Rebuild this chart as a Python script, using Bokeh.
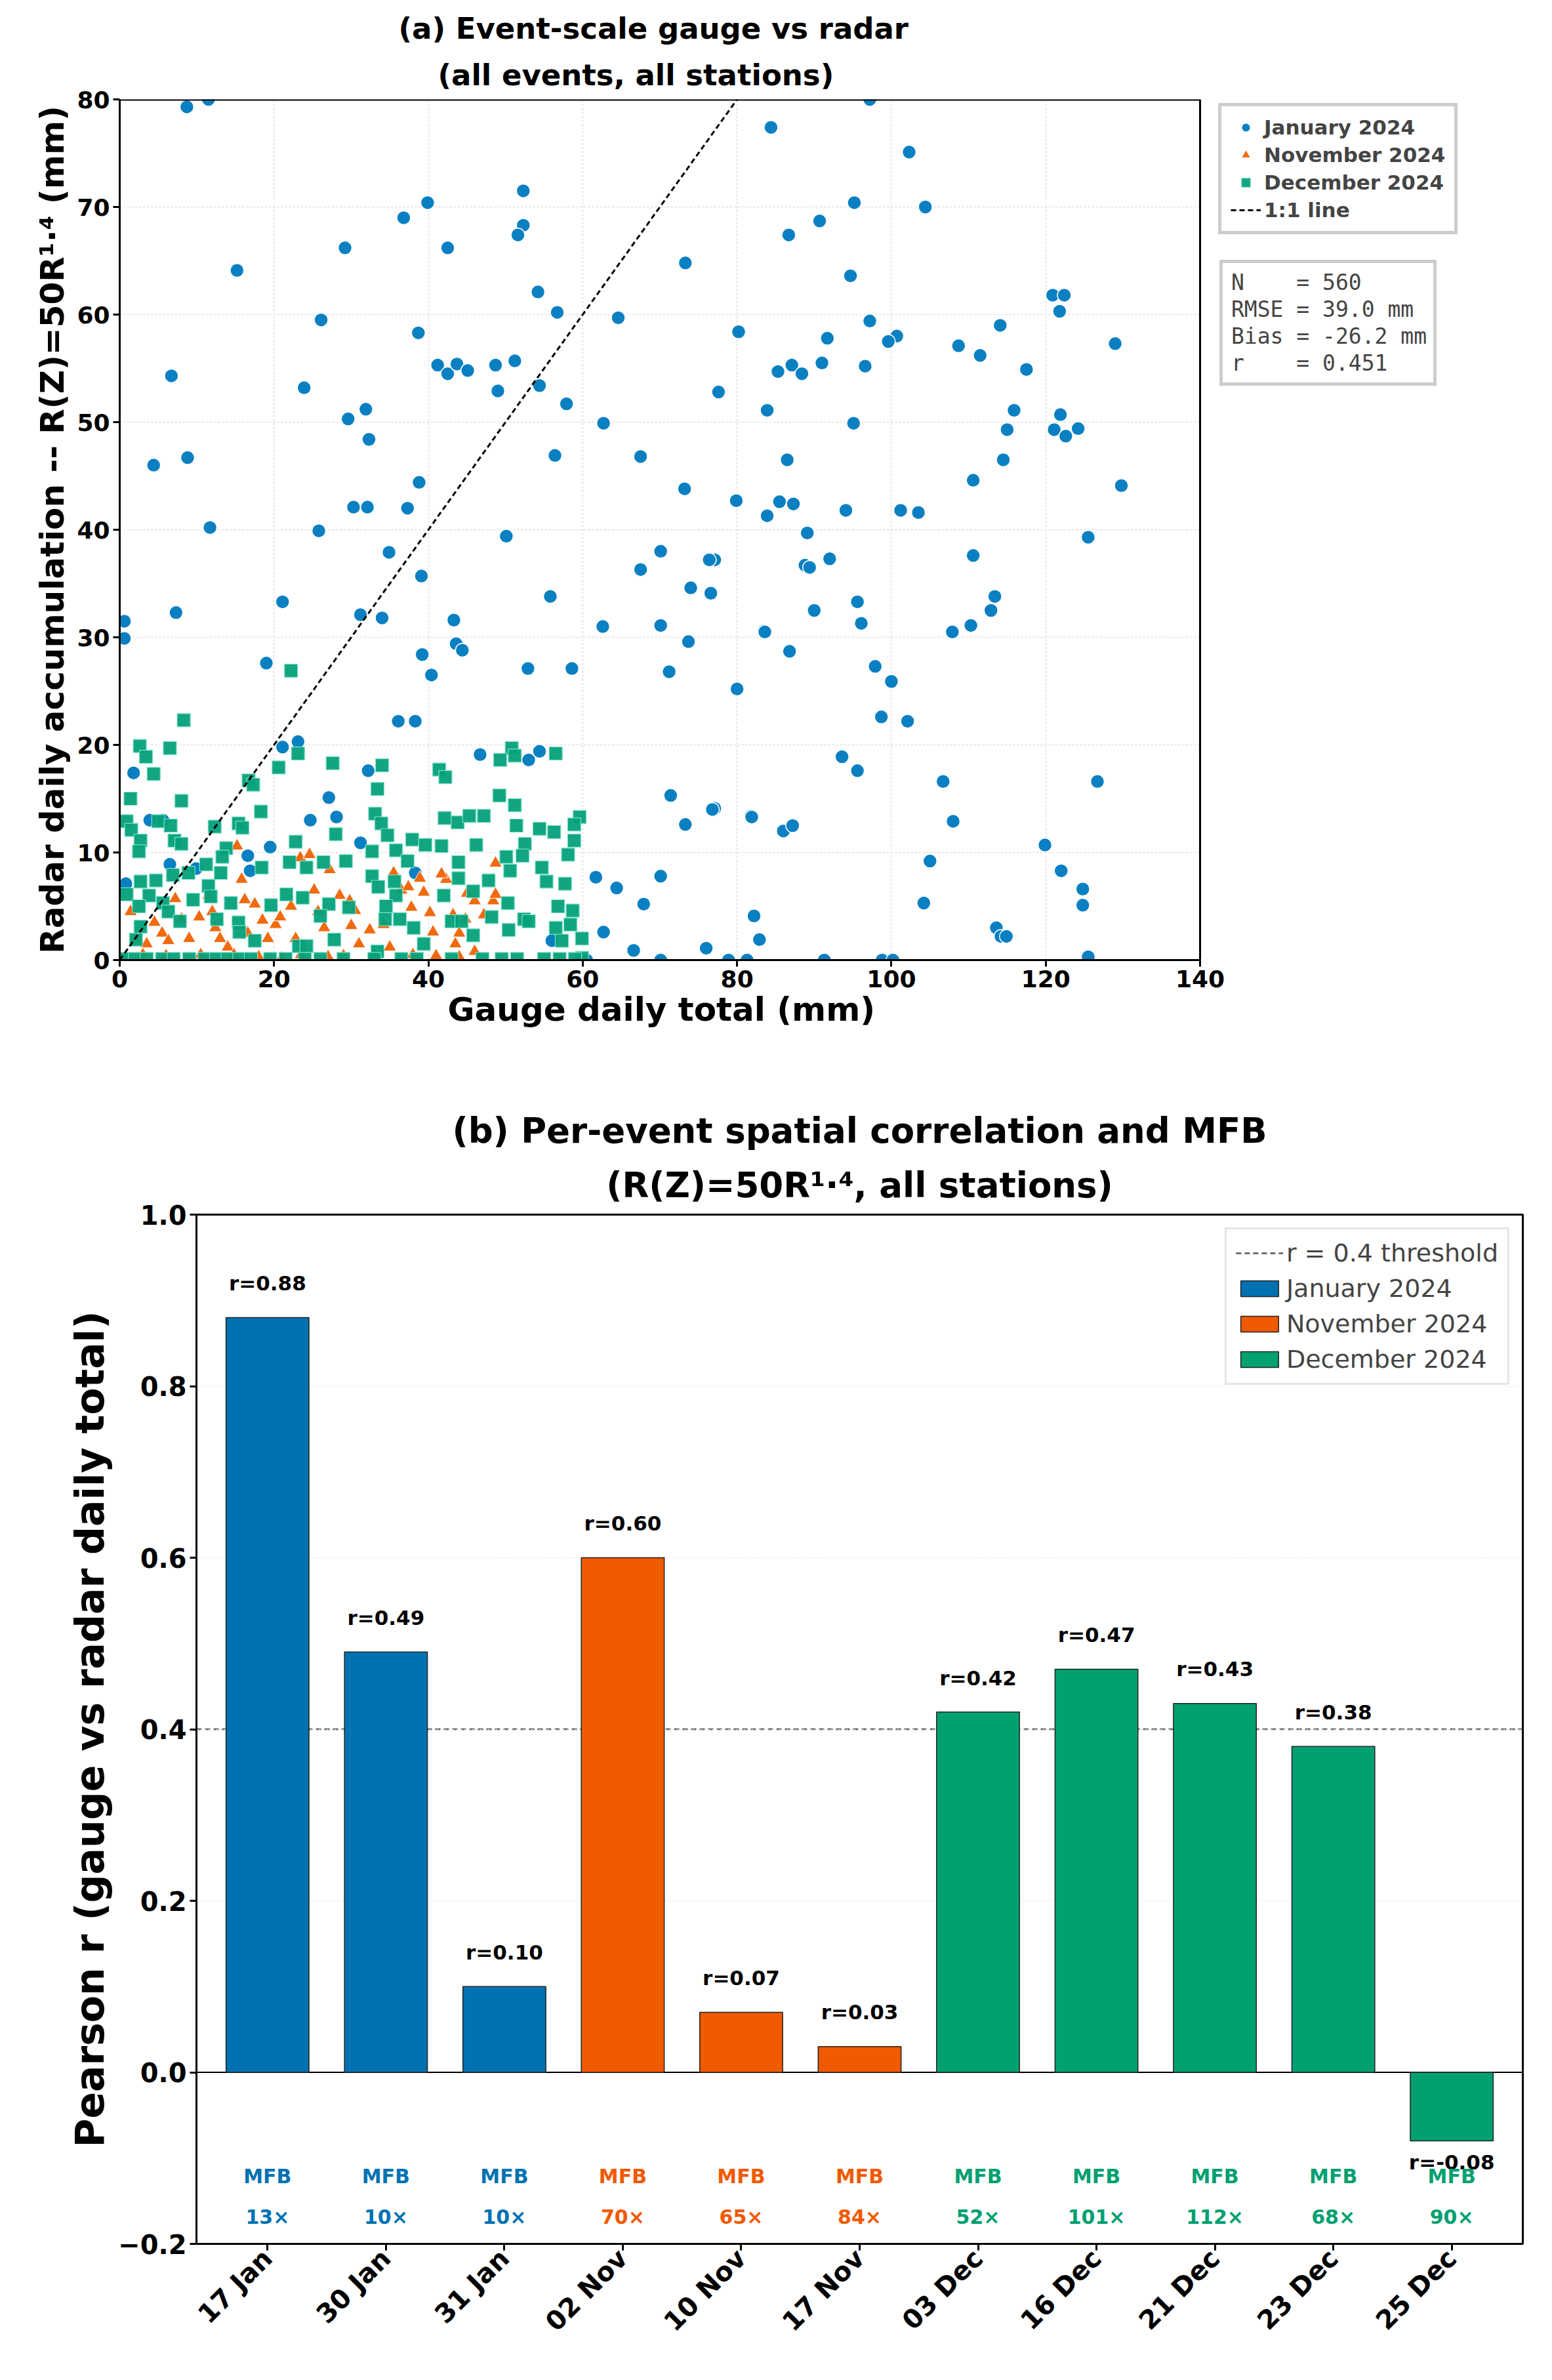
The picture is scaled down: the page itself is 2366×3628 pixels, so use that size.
from bokeh.plotting import figure
from bokeh.models import Legend, LegendItem, Title, Span, FixedTicker, Range1d, ColumnDataSource
from bokeh.embed import file_html
from bokeh.resources import INLINE
from bokeh.core.properties import value

# ---------------- data: panel (a) ----------------
jan_x = [8.7,11.5,15.2,29.2,26.1,23.9,29.6,31.9,32.3,6.7,4.4,8.8,36.8,39.9,42.5,38.7,41.2,42.5,43.7,45.1,48.7,49.0,51.2,52.3,52.3,51.6,54.2,56.7,54.4,57.9,56.4,62.7,64.6,67.5,73.3,73.2,80.2,79.9,84.4,83.9,85.3,85.5,83.9,38.8,30.3,32.1,37.3,
         97.2,102.3,95.2,104.4,90.7,86.7,94.7,120.9,122.4,121.8,97.2,91.7,100.7,99.6,114.1,108.7,111.5,117.5,129.0,87.1,88.4,91.0,96.6,77.6,95.1,115.9,115.0,121.9,121.1,122.6,124.2,86.5,114.5,110.6,129.8,87.3,94.1,101.2,103.5,
         89.1,125.5,110.6,92.0,88.8,89.4,77.1,113.4,112.9,95.6,90.0,96.1,110.3,107.9,83.5,86.8,97.9,100.0,80.0,98.7,102.1,93.6,95.6,106.7,126.7,77.1,81.8,86.0,87.2,108.0,119.9,105.0,122.0,124.8,124.8,104.2,82.2,82.9,113.6,114.2,114.9,125.5,78.8,81.3,91.3,98.8,100.2,
         11.7,25.8,50.1,34.9,39.1,70.1,76.4,67.5,74.0,76.6,55.8,0.6,0.6,7.3,21.1,31.2,34.0,43.3,43.6,44.4,39.2,40.4,19.0,52.9,58.6,62.6,70.1,73.7,71.2,83.6,36.1,38.3,1.8,21.1,23.1,32.2,46.7,53.0,54.4,71.4,76.8,73.3,81.9,27.1,28.1,24.7,3.9,5.6,19.5,31.2,16.6,16.9,6.5,9.9,0.8,38.3,61.7,64.4,70.1,67.9,62.7,66.6,76.0,56.0,70.1,78.9,60.5]
jan_y = [79.3,80.0,64.1,66.2,59.5,53.2,50.3,51.2,48.4,54.3,46.0,46.7,69.0,70.4,66.2,58.3,55.3,54.5,55.4,54.8,55.3,52.9,55.7,71.5,68.3,67.4,62.1,60.2,53.4,51.7,46.9,49.9,59.7,46.8,64.8,43.8,58.4,42.7,77.4,51.1,54.7,42.6,41.3,44.4,42.1,42.1,42.0,
         80.0,75.1,70.4,70.0,68.7,67.4,63.6,61.8,61.8,60.3,59.4,57.8,58.0,57.5,59.0,57.1,56.2,54.9,57.3,55.3,54.5,55.5,55.2,52.8,49.9,51.1,49.3,50.7,49.3,48.7,49.4,46.5,46.5,44.6,44.1,42.4,41.8,41.8,41.6,
         39.7,39.3,37.6,37.3,36.7,36.5,37.2,33.8,32.5,33.3,32.5,31.3,31.1,30.5,30.6,28.7,27.3,25.9,25.2,22.6,22.2,18.9,17.6,16.6,16.6,14.1,13.4,12.0,12.5,12.9,10.7,9.2,8.3,6.6,5.1,5.3,4.1,1.9,3.0,2.2,2.2,0.3,0.0,0.0,0.0,0.0,0.0,
         40.2,39.9,39.4,37.9,35.7,38.0,37.2,36.3,34.6,34.1,33.8,31.5,29.9,32.3,33.3,32.1,31.8,31.6,29.4,28.8,28.4,26.5,27.6,27.1,27.1,31.0,31.1,29.6,26.8,30.5,22.2,22.2,17.4,19.8,20.3,17.6,19.1,18.6,19.4,15.3,14.0,12.6,13.3,15.1,13.3,13.0,13.0,13.0,10.5,10.9,9.7,8.3,8.9,8.5,7.1,8.1,7.7,6.7,7.8,5.2,2.6,0.9,1.1,1.8,0.0,0.0,0.0]

nov_x = [15.2,15.8,16.2,17.5,18.5,19.2,20.2,20.8,22.2,23.4,24.6,25.2,25.7,26.5,27.2,28.5,29.8,30.5,31.0,32.4,35.5,36.5,37.4,37.8,38.9,39.4,40.6,42.3,43.2,44.0,44.8,46.0,47.2,48.4,48.7,48.7,41.7,1.4,2.0,3.5,4.5,5.5,6.3,7.2,8.0,9.0,10.3,11.5,12.4,13.0,14.0,14.8,18.0,21.0,23.5,27.0,29.0,33.0,35.0,38.0,41.0,44.0,46.0,10.5,6.0,3.0,12.0,16.6,22.8,30.0,34.2,40.2,45.0,43.5]
nov_y = [10.6,7.5,5.6,5.2,3.7,2.0,3.3,4.0,5.0,9.5,9.8,6.5,4.5,3.0,8.4,6.0,5.5,4.6,1.5,2.8,8.1,6.5,6.8,4.9,7.6,6.3,2.6,7.5,4.2,2.5,3.8,5.5,4.2,5.5,6.1,9.0,8.0,4.5,2.0,1.5,3.5,2.5,1.8,5.7,3.8,2.0,4.0,6.0,3.0,2.0,1.2,0.5,0.3,0.2,0.5,0.3,0.4,0.5,1.2,0.5,0.4,0.3,0.8,0.5,0.4,0.5,4.5,2.5,2.0,3.2,3.3,4.4,6.2,1.5]

dec_x = [8.3,22.2,2.6,6.5,3.4,4.4,1.4,8.0,16.7,17.3,18.3,20.6,23.1,27.6,34.0,33.4,33.1,33.9,34.7,41.4,42.2,50.8,49.3,51.2,56.5,49.2,51.2,59.6,58.9,42.1,43.8,45.3,47.2,51.4,54.4,56.3,0.9,1.5,2.7,2.5,5.0,6.6,7.1,8.0,12.3,15.4,15.9,22.8,28.0,32.7,35.8,37.9,39.6,41.7,46.2,52.5,58.9,58.1,50.1,52.2,13.8,13.3,11.2,13.1,8.9,6.9,4.7,2.7,0.9,3.8,5.6,6.3,7.8,2.5,2.7,2.1,9.5,11.5,11.8,14.4,12.6,15.4,15.5,17.5,18.4,19.6,21.6,22.0,23.7,24.2,26.4,29.3,27.1,29.7,26.0,27.8,23.2,24.2,32.7,33.5,35.6,35.8,34.5,34.4,36.3,37.3,38.1,39.4,33.4,42.0,43.9,43.9,43.0,44.3,45.8,47.8,48.2,45.8,50.3,50.4,52.4,53.0,50.6,54.7,55.3,57.7,56.8,58.7,56.5,58.4,59.9,57.3,59.9,
         0.5,2.0,3.5,5.5,7.0,9.0,11.0,12.5,14.0,15.5,17.0,19.5,21.5,24.0,26.0,29.0,33.0,36.5,38.5,43.0,47.0,49.5,51.5,55.0,57.0,59.0]
dec_y = [22.3,26.9,19.9,19.7,18.9,17.3,15.0,14.8,16.7,16.3,13.8,17.9,19.2,18.3,18.1,15.9,13.6,12.7,11.6,17.7,17.0,19.7,18.6,19.0,19.2,15.3,14.4,13.3,12.6,13.2,12.8,13.4,13.4,12.5,12.2,11.9,12.9,12.1,11.1,10.1,12.9,12.5,11.1,10.8,12.4,12.7,12.3,11.0,11.7,10.1,10.2,11.2,10.7,10.6,10.7,10.8,11.1,9.8,9.6,9.7,10.4,9.6,8.9,8.1,8.1,7.9,7.4,7.3,6.1,6.0,5.3,4.5,3.6,5.0,3.1,1.9,5.6,6.9,5.9,5.3,3.8,3.5,2.6,1.8,8.6,5.1,6.1,9.1,5.8,8.6,9.1,9.2,5.2,4.9,4.1,1.9,1.3,1.3,7.8,6.8,7.3,6.0,5.0,3.8,3.8,9.2,3.0,1.5,0.8,6.0,7.6,9.1,3.6,3.6,6.4,7.4,4.0,2.3,5.3,2.8,3.8,3.6,8.3,8.6,7.3,7.1,5.0,4.6,3.0,3.3,2.0,1.8,0.2,
         0.1,0.1,0.1,0.1,0.1,0.1,0.1,0.1,0.1,0.1,0.1,0.1,0.1,0.1,0.1,0.1,0.1,0.1,0.1,0.1,0.1,0.1,0.1,0.1,0.1,0.1]

stats_lines = ["N    = 560", "RMSE = 39.0 mm", "Bias = -26.2 mm", "r    = 0.451"]
x_max_a, y_max_a = 140, 80

# ---------------- data: panel (b) ----------------
events = ["17 Jan", "30 Jan", "31 Jan", "02 Nov", "10 Nov", "17 Nov", "03 Dec", "16 Dec", "21 Dec", "23 Dec", "25 Dec"]
r_vals = [0.88, 0.49, 0.10, 0.60, 0.07, 0.03, 0.42, 0.47, 0.43, 0.38, -0.08]
mfb_vals = [13, 10, 10, 70, 65, 84, 52, 101, 112, 68, 90]
months = ["January 2024"] * 3 + ["November 2024"] * 3 + ["December 2024"] * 5
threshold = 0.4

BLUE, ORANGE, GREEN = "#0072B2", "#F05A00", "#00A070"
SBLUE, SORANGE, SGREEN = "#0A80C2", "#F06A10", "#05A07A"
FONT = "DejaVu Sans"


def style_axes(p, tick_size, label_size):
    for ax in (p.xaxis, p.yaxis):
        ax.major_label_text_font = FONT
        ax.major_label_text_font_size = tick_size
        ax.major_label_text_font_style = "bold"
        ax.major_label_text_color = "black"
        ax.axis_label_text_font = FONT
        ax.axis_label_text_font_size = label_size
        ax.axis_label_text_font_style = "bold"
        ax.axis_label_text_color = "black"
        ax.axis_line_width = 3
        ax.major_tick_line_width = 3
        ax.major_tick_out = 10
        ax.major_tick_in = 0
        ax.minor_tick_line_color = None


def two_line_title(p, line1, line2, size, standoff, align="center", off1=0, off2=0):
    p.title.text = line1
    p.title.align = align
    p.title.offset = off1
    p.title.text_font = FONT
    p.title.text_font_size = size
    p.title.text_font_style = "bold"
    p.title.text_color = "black"
    p.add_layout(Title(text=line2, align=align, offset=off2, text_font=FONT, text_font_size=size,
                       text_font_style="bold", text_color="black", standoff=standoff), "above")


# ---------------- panel (a) ----------------
# the frame is widened to host the legend boxes; the drawn axes box stops at x = 140
px_per_unit = 1647 / x_max_a
frame_w_a = 2060
pa = figure(frame_width=frame_w_a, frame_height=1312, output_backend="svg", toolbar_location=None,
            x_range=Range1d(0, frame_w_a / px_per_unit), y_range=Range1d(0, y_max_a),
            min_border_left=182, min_border_right=100, min_border_top=151, min_border_bottom=222)
two_line_title(pa, "(a) Event-scale gauge vs radar", "(all events, all stations)", "45px", 22,
               align="left", off1=425, off2=485)
pa.outline_line_color = None

pa.grid.grid_line_color = "#dddddd"
pa.grid.grid_line_dash = "3 3"
pa.grid.grid_line_width = 1.5
pa.ygrid.cross_bounds = (0, x_max_a)

rj = pa.scatter(jan_x, jan_y, marker="circle", size=21, fill_color=SBLUE, line_color="white", line_width=1.5)
rn = pa.scatter(nov_x, nov_y, marker="triangle", size=20, fill_color=SORANGE, line_color="white", line_width=1)
rd = pa.scatter(dec_x, dec_y, marker="square", size=20, fill_color=SGREEN, line_color="#7fe0c8", line_width=1.2, fill_alpha=0.95)
r11 = pa.line([0, y_max_a], [0, y_max_a], line_color="black", line_dash="8 5", line_width=3)
rinv = pa.scatter([0], [0], size=1, fill_alpha=0, line_alpha=0)
pa.line([0, x_max_a], [y_max_a, y_max_a], line_color="black", line_width=4)
pa.line([x_max_a, x_max_a], [0, y_max_a], line_color="black", line_width=3)

style_axes(pa, "36px", "50px")
pa.xaxis.bounds = (0, x_max_a)
pa.xaxis.ticker = FixedTicker(ticks=[0, 20, 40, 60, 80, 100, 120, 140])
pa.yaxis.ticker = FixedTicker(ticks=[0, 10, 20, 30, 40, 50, 60, 70, 80])
pa.yaxis.axis_label = "Radar daily accumulation -- R(Z)=50R¹·⁴ (mm)"
pa.add_layout(Title(text="Gauge daily total (mm)", align="left", offset=500, text_font=FONT,
                    text_font_size="50px", text_font_style="bold", text_color="black", standoff=0), "below")

lega = Legend(items=[LegendItem(label="January 2024", renderers=[rj]),
                     LegendItem(label="November 2024", renderers=[rn]),
                     LegendItem(label="December 2024", renderers=[rd]),
                     LegendItem(label="1:1 line", renderers=[r11])],
              location=(1675, 1106))
lega.label_text_font = FONT
lega.label_text_font_size = "31px"
lega.label_text_font_style = "bold"
lega.border_line_color = "#999999"
lega.border_line_width = 5
lega.padding = 14
lega.spacing = 6
lega.glyph_width = 46
lega.glyph_height = 34
lega.label_height = 36
pa.add_layout(lega)

legs = Legend(items=[LegendItem(label=s, renderers=[rinv]) for s in stats_lines],
              location=(1677, 875))
legs.label_text_font = "DejaVu Sans Mono"
legs.label_text_font_size = "33px"
legs.border_line_color = "#999999"
legs.border_line_width = 5
legs.padding = 10
legs.spacing = 2
legs.glyph_width = 1
legs.glyph_height = 32
legs.label_standoff = 2
legs.label_height = 38
pa.add_layout(legs)

# ---------------- panel (b) ----------------
xs = list(range(len(events)))
src = ColumnDataSource(dict(x=xs, r=r_vals,
                            lab=["r=%.2f" % v for v in r_vals],
                            laby=[v + 0.04 if v >= 0 else v - 0.025 for v in r_vals],
                            mfb=["%d×" % m for m in mfb_vals],
                            col=[BLUE if m.startswith("Jan") else ORANGE if m.startswith("Nov") else GREEN for m in months]))

pb = figure(frame_width=2022, frame_height=1569, output_backend="svg", toolbar_location=None,
            x_range=Range1d(-0.6, 10.6), y_range=Range1d(-0.2, 1.0),
            min_border_left=299, min_border_right=29, min_border_top=120, min_border_bottom=190)
two_line_title(pb, "(b) Per-event spatial correlation and MFB", "(R(Z)=50R¹·⁴, all stations)", "53px", 30)
pb.outline_line_color = "black"
pb.outline_line_width = 3

rthr = pb.line([-0.6, 10.6], [threshold, threshold], line_color="#555555", line_dash="8 5", line_width=2.5)
rthr.level = "underlay"
pb.add_layout(Span(location=0, dimension="width", line_color="black", line_width=2, level="underlay"))
bar_r = {}
for m, c in [("January 2024", BLUE), ("November 2024", ORANGE), ("December 2024", GREEN)]:
    idx = [i for i in xs if months[i] == m]
    bar_r[m] = pb.vbar(x=[xs[i] for i in idx], top=[r_vals[i] for i in idx], bottom=0, width=0.7,
                       fill_color=c, line_color="#222222", line_width=1.5)

pb.text(x="x", y="laby", text="lab", source=src, text_align="center", text_baseline="middle",
        text_font=value(FONT), text_font_size="31px", text_font_style="bold", text_color="black")
pb.text(x="x", y=-0.121, text=value("MFB"), source=src, text_align="center", text_baseline="middle",
        text_font=value(FONT), text_font_size="30px", text_font_style="bold", text_color="col")
pb.text(x="x", y=-0.169, text="mfb", source=src, text_align="center", text_baseline="middle",
        text_font=value(FONT), text_font_size="30px", text_font_style="bold", text_color="col")

style_axes(pb, "40px", "60px")
pb.xaxis.ticker = FixedTicker(ticks=xs)
pb.xaxis.major_label_overrides = {i: e for i, e in enumerate(events)}
pb.xaxis.major_label_orientation = 0.785
pb.yaxis.ticker = FixedTicker(ticks=[-0.2, 0.0, 0.2, 0.4, 0.6, 0.8, 1.0])
pb.yaxis.major_label_overrides = {-0.2: "−0.2", 0.0: "0.0", 0.2: "0.2", 0.4: "0.4", 0.6: "0.6", 0.8: "0.8", 1.0: "1.0"}
pb.yaxis.axis_label = "Pearson r (gauge vs radar daily total)"
pb.xgrid.grid_line_color = None
pb.ygrid.grid_line_color = "#e6e6e6"
pb.ygrid.grid_line_dash = "3 3"

legb = Legend(items=[LegendItem(label="r = 0.4 threshold", renderers=[rthr]),
                     LegendItem(label="January 2024", renderers=[bar_r["January 2024"]]),
                     LegendItem(label="November 2024", renderers=[bar_r["November 2024"]]),
                     LegendItem(label="December 2024", renderers=[bar_r["December 2024"]])],
              location="top_right")
legb.label_text_font = FONT
legb.label_text_font_size = "38px"
legb.border_line_color = "#cccccc"
legb.border_line_width = 3
legb.padding = 14
legb.spacing = 10
legb.glyph_width = 72
legb.glyph_height = 30
legb.margin = 20
pb.add_layout(legb)

open("out.html", "w").write(file_html([pa, pb], INLINE))
